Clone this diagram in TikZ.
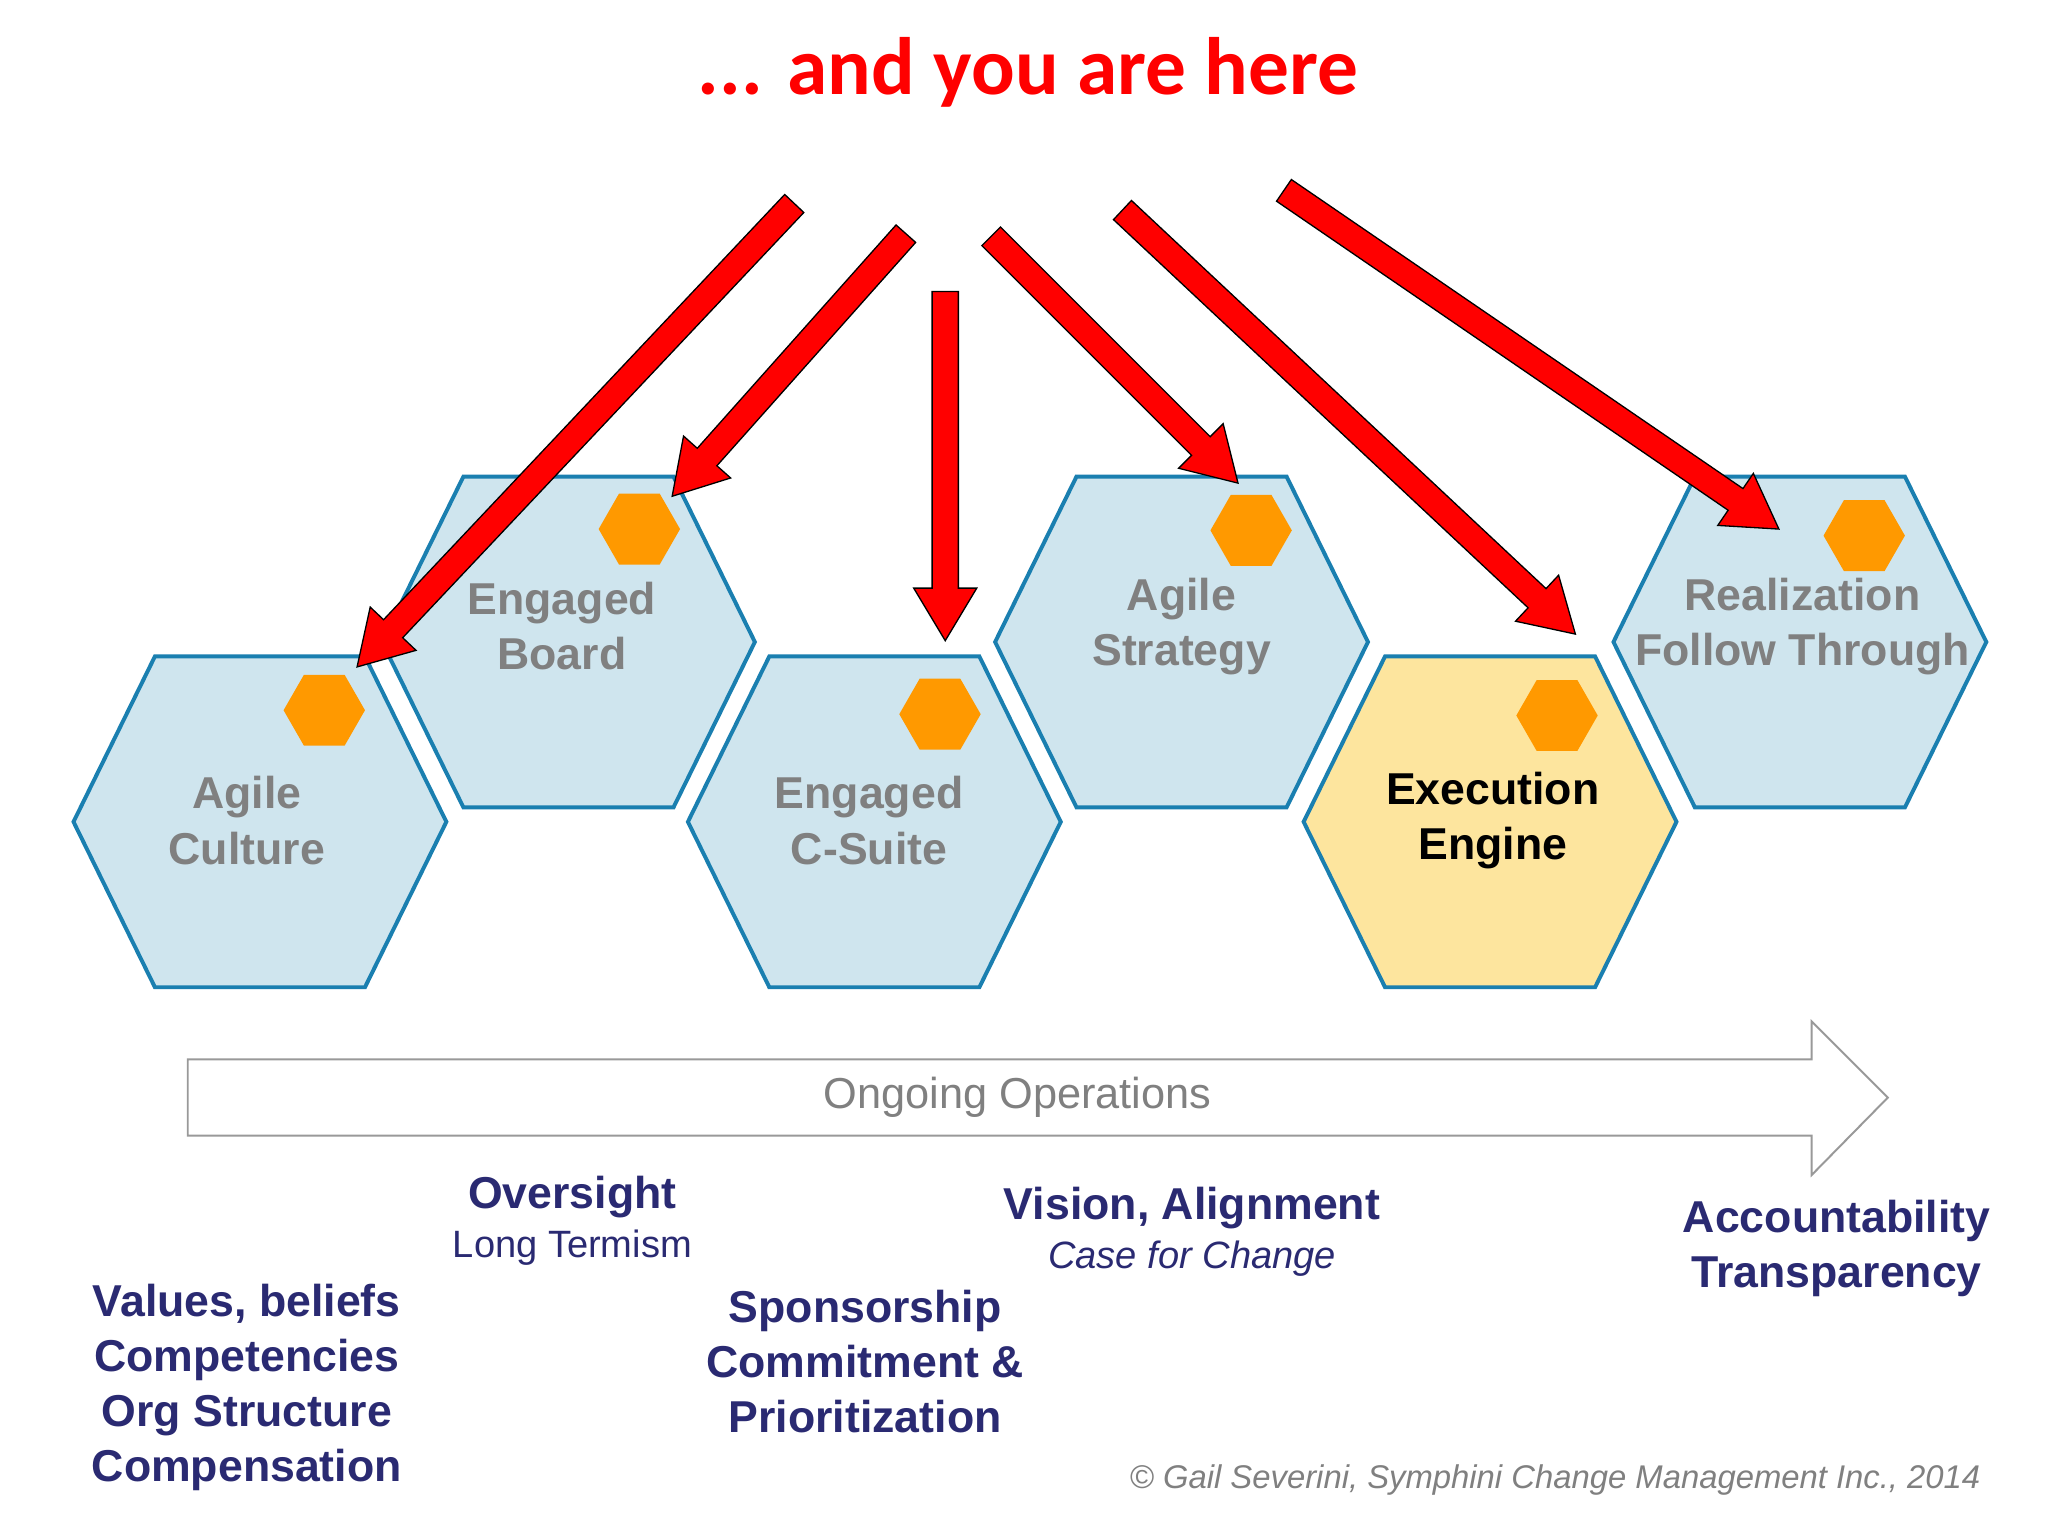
\documentclass[tikz,border=0pt]{standalone}
\usepackage{fontspec}
\setmainfont{Liberation Sans}
\newfontfamily\titlefont{Carlito}
\usetikzlibrary{calc}
\definecolor{hexfill}{HTML}{CFE5EE}
\definecolor{hexdraw}{HTML}{1A7FB0}
\definecolor{yel}{HTML}{FDE59E}
\definecolor{org}{HTML}{FF9900}
\definecolor{navy}{HTML}{2A2A72}
\definecolor{gtxt}{HTML}{808080}
\tikzset{
 hex/.style={draw=hexdraw,line width=3pt,fill=hexfill,line join=miter},
 small/.style={fill=org},
 hlabel/.style={font=\bfseries\fontsize{34}{42}\selectfont,text=gtxt,align=center},
 blabel/.style={font=\bfseries\fontsize{34}{42}\selectfont,text=navy,align=center},
 fat/.style={fill=red,draw=black,line width=1pt,line join=miter}
}
\newcommand\bighex[2]{% center, name
 \coordinate (#2) at (#1);
 \draw[hex] ($(#2)+(-80,-126)$) -- ($(#2)+(80,-126)$) -- ($(#2)+(142,0)$) -- ($(#2)+(80,126)$) -- ($(#2)+(-80,126)$) -- ($(#2)+(-142,0)$) -- cycle;}
\newcommand\smallhex[2]{%
 \coordinate (#2) at (#1);
 \fill[small] ($(#2)+(-15.5,-27)$) -- ($(#2)+(15.5,-27)$) -- ($(#2)+(31,0)$) -- ($(#2)+(15.5,27)$) -- ($(#2)+(-15.5,27)$) -- ($(#2)+(-31,0)$) -- cycle;}
\newcommand\fatarr[2]{%
 \coordinate (b) at ($(#2)!40pt!(#1)$);
 \draw[fat] ($(#1)!10pt!90:(#2)$) -- ($(b)!10pt!-90:(#1)$) -- ($(b)!24pt!-90:(#1)$) -- (#2) -- ($(b)!24pt!90:(#1)$) -- ($(b)!10pt!90:(#1)$) -- ($(#1)!10pt!-90:(#2)$) -- cycle;}
\begin{document}
\begin{tikzpicture}[x=1pt,y=-1pt]
\fill[white] (0,0) rectangle (1560,1170);
\useasboundingbox (0,0) rectangle (1560,1170);
\node[font=\titlefont\bfseries\fontsize{62}{70}\selectfont,text=red] (title) at (783,55) {... and you are here};
\bighex{198,626}{h1}
\bighex{433,489}{h2}
\bighex{900,489}{h4}
\bighex{1371,489}{h6}
\bighex{666,626}{h3}
\begin{scope}[hex/.append style={fill=yel}]
\bighex{1135,626}{h5}
\end{scope}
\smallhex{247,541}{s1}
\smallhex{487,403}{s2}
\smallhex{716,544}{s3}
\smallhex{953,404}{s4}
\smallhex{1186,545}{s5}
\smallhex{1420,408}{s6}
\node[hlabel] (l1) at (188,625) {Agile\\Culture};
\node[hlabel] (l2) at (428,477) {Engaged\\Board};
\node[hlabel] (l3) at (662,625) {Engaged\\C-Suite};
\node[hlabel] (l4) at (900,477) {Agile\\Strategy};
\node[hlabel,text=black] (l5) at (1137,625) {Execution\\Engine};
\node[hlabel] (l6) at (1373,477) {Realization\\Follow Through};
\coordinate (a1s) at (605,155); \coordinate (a1e) at (272,508);
\coordinate (a2s) at (690,178); \coordinate (a2e) at (512,378);
\coordinate (a3s) at (720,222); \coordinate (a3e) at (720,488);
\coordinate (a4s) at (755,180); \coordinate (a4e) at (943,368);
\coordinate (a5s) at (855,160); \coordinate (a5e) at (1200,483);
\coordinate (a6s) at (978,145); \coordinate (a6e) at (1355,403);
\fatarr{a1s}{a1e}\fatarr{a2s}{a2e}\fatarr{a3s}{a3e}
\fatarr{a4s}{a4e}\fatarr{a5s}{a5e}\fatarr{a6s}{a6e}
\draw[gray!80,line width=1.5pt,fill=white] (143,807) -- (1380,807) -- (1380,778) -- (1438,836) -- (1380,895) -- (1380,865) -- (143,865) -- cycle;
\node[font=\fontsize{33}{40}\selectfont,text=gtxt] (ops) at (775,836) {Ongoing Operations};
\node[blabel] (t1) at (188,1057) {Values, beliefs\\Competencies\\Org Structure\\Compensation};
\node[blabel] (t2) at (436,912) {Oversight};
\node[font=\fontsize{29}{34}\selectfont,text=navy] (t2b) at (436,950) {Long Termism};
\node[blabel] (t3) at (659,1037) {Sponsorship\\Commitment \&\\Prioritization};
\node[blabel] (t4) at (908,920) {Vision, Alignment};
\node[font=\itshape\fontsize{29}{34}\selectfont,text=navy] (t4b) at (908,959) {Case for Change};
\node[blabel] (t5) at (1399,951) {Accountability\\Transparency};
\node[font=\itshape\fontsize{25}{30}\selectfont,text=gtxt,anchor=east] (c) at (1512,1127) {© Gail Severini, Symphini Change Management Inc., 2014};
\end{tikzpicture}
\end{document}
